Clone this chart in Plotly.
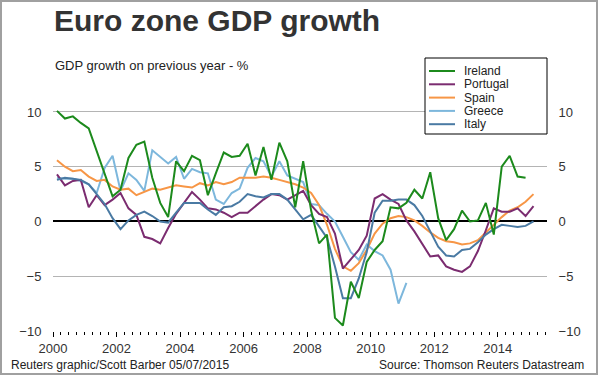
import plotly.graph_objects as go

# ---------------- data (quarterly, y/y % growth) ----------------
start_year = 2000
n_quarters = 61  # 2000Q1 .. 2015Q1
quarters = [f"{start_year + i // 4}Q{i % 4 + 1}" for i in range(n_quarters)]

ireland = [10.1, 9.4, 9.6, 9.0, 8.5, 6.5, 4.3, 2.3, 2.9, 5.8,
           7.0, 7.3, 4.0, 1.7, 0.4, 5.5, 4.6, 6.0, 5.6, 2.4,
           4.4, 6.3, 5.9, 6.0, 7.1, 4.2, 6.8, 3.8, 7.2, 5.5,
           1.3, 5.5, 1.0, -2.0, -1.2, -8.8, -9.5, -5.5, -7.0, -3.7,
           -2.6, -1.8, 1.3, 1.2, 1.7, 2.9, 2.1, 4.5, 0.3, -1.7,
           -0.7, 1.0, 0.0, 0.1, 1.7, -1.2, 5.0, 6.0, 4.1, 4.0]

portugal = [4.3, 3.3, 3.7, 3.8, 1.3, 2.4, 1.5, 2.0, 2.6, 1.2,
            0.6, -1.4, -1.6, -2.0, -0.6, 0.7,
            1.7, 2.7, 2.0, 1.2, 1.1, 0.8, 0.4, 0.8, 0.8, 1.4,
            2.0, 2.5, 2.4, 2.0, 2.4, 2.8,
            1.5, 0.7, 0.4, -1.1, -4.3, -3.5, -2.6, -1.3, 2.1, 2.5,
            2.0, 1.6, 0.1, -0.9, -2.1, -3.2,
            -3.1, -4.1, -4.4, -4.6, -4.1, -2.7, -0.8, 1.2, 0.9, 0.9,
            1.2, 0.5, 1.4]

spain = [5.6, 5.0, 4.6, 4.7, 4.1, 3.7, 3.8, 3.2, 2.9, 3.0,
         2.4, 2.7, 3.0, 2.9, 3.1, 3.3,
         3.2, 3.1, 3.5, 3.3, 3.6, 3.4, 3.6, 4.0, 4.0, 4.0,
         4.1, 4.0, 3.8, 3.6, 3.4, 3.1,
         2.6, 1.5, -0.3, -2.5, -4.1, -4.5, -3.8, -2.6, -1.1, -0.2,
         0.3, 0.5, 0.4, 0.1, -0.4, -1.0, -1.5, -1.8, -1.9, -2.1,
         -2.0, -1.7, -1.0, -0.3, 0.4, 1.0, 1.3, 1.8, 2.5]

greece = [4.0, 3.9, 3.9, 3.7, 3.4, 2.6, 4.9, 6.0, 2.8, 4.4,
          3.8, 2.8, 6.5, 5.9, 5.3, 5.9, 3.9, 4.8, 4.5, 4.4,
          2.0, 1.6, 2.6, 3.0, 4.9, 5.8, 5.5, 4.1, 5.5, 4.2,
          3.9, 3.6, 1.6, 1.5, 0.7, 0.0, -1.4, -2.8, -3.5, -2.1,
          -2.7, -3.1, -4.4, -7.5, -5.6]

italy = [3.8, 4.0, 3.9, 3.8, 3.4, 2.5, 1.6, 0.3, -0.7, 0.1,
         0.6, 0.9, 0.5, 0.0, -0.1,
         0.8, 1.7, 1.7, 1.7, 1.1, 0.6, 1.3, 1.4, 1.8, 2.5,
         2.3, 2.2, 2.5, 2.5, 2.0, 1.1, 0.2,
         0.6, -0.5, -1.5, -4.1, -7.0, -7.0, -5.2, -2.8, 0.8, 1.9,
         1.9, 2.0, 2.0, 1.5, 0.5, -0.9,
         -2.3, -3.1, -3.2, -2.6, -2.5, -1.9, -1.2, -0.7, -0.3, -0.4,
         -0.5, -0.4, 0.0]

series_names = ["Ireland", "Portugal", "Spain", "Greece", "Italy"]
series_values = [ireland, portugal, spain, greece, italy]
series_colors = ["#1c8a1c", "#7b2c70", "#f79646", "#7db7dc", "#4a7aa3"]
z_orders = [5, 3, 2, 1, 4]

y_ticks = [-10, -5, 0, 5, 10]
x_ticks = [2000, 2002, 2004, 2006, 2008, 2010, 2012, 2014]


def quarter_pos(q):
    year, qq = q.split("Q")
    return int(year) + (int(qq) - 1) / 4 + 0.125


FONT = "Liberation Sans, Arial, sans-serif"
W, H = 600, 376

fig = go.Figure()
for name, vals, col, z in zip(series_names, series_values, series_colors, z_orders):
    fig.add_trace(go.Scatter(
        x=[quarter_pos(q) for q in quarters[:len(vals)]],
        y=vals,
        mode="lines",
        name=name,
        line=dict(color=col, width=2),
        zorder=z,
        showlegend=False,
    ))

# empty trace so the right-hand axis is drawn
fig.add_trace(go.Scatter(x=[], y=[], yaxis="y2", showlegend=False, hoverinfo="skip"))

plot_left, plot_right = 53, 547
plot_top, plot_bottom = 108.7, 331


def px(x):
    return x / W


def py(y):
    return 1 - y / H


annotations = [
    dict(text="<b>Euro zone GDP growth</b>", x=px(52), y=py(21),
         xanchor="left", yanchor="middle",
         font=dict(family=FONT, size=30, color="#333333")),
    dict(text="GDP growth on previous year - %", x=px(53), y=py(66),
         xanchor="left", yanchor="middle",
         font=dict(family=FONT, size=13, color="#222222")),
    dict(text="Reuters graphic/Scott Barber 05/07/2015", x=px(9), y=py(365),
         xanchor="left", yanchor="middle",
         font=dict(family=FONT, size=12, color="#222222")),
    dict(text="Source: Thomson Reuters Datastream", x=px(586), y=py(365),
         xanchor="right", yanchor="middle",
         font=dict(family=FONT, size=12, color="#222222")),
]

shapes = [
    dict(type="rect", x0=px(1), x1=px(597), y0=py(374), y1=py(1),
         line=dict(color="#a0a0a0", width=2), fillcolor="rgba(0,0,0,0)",
         layer="above"),
    # legend box
    dict(type="rect", x0=px(425), x1=px(547), y0=py(134), y1=py(58),
         line=dict(color="black", width=1), fillcolor="white", layer="above"),
]

# legend entries (line swatch + label)
legend_top = 71
legend_step = 13.3
for k, (name, col) in enumerate(zip(series_names, series_colors)):
    yc = legend_top + k * legend_step
    shapes.append(dict(type="line", x0=px(429), x1=px(455), y0=py(yc), y1=py(yc),
                       line=dict(color=col, width=2), layer="above"))
    annotations.append(dict(text=name, x=px(462), y=py(yc), xanchor="left",
                            yanchor="middle",
                            font=dict(family=FONT, size=12, color="#222222")))

for a in annotations:
    a.update(xref="paper", yref="paper", showarrow=False)
for s in shapes:
    s.update(xref="paper", yref="paper")

fig.update_layout(
    width=W, height=H,
    margin=dict(l=0, r=0, t=0, b=0),
    paper_bgcolor="white", plot_bgcolor="white",
    font=dict(family=FONT, color="#333333", size=13),
    showlegend=False,
    xaxis=dict(
        domain=[plot_left / W, plot_right / W],
        range=[2000, 2015.55],
        tickmode="array", tickvals=x_ticks,
        ticks="outside", ticklen=5, tickcolor="black", tickwidth=1,
        minor=dict(dtick=0.25, tick0=2000, ticks="outside", ticklen=3,
                   tickcolor="black", tickwidth=1, showgrid=False),
        showline=True, linecolor="black", linewidth=1,
        showgrid=False, zeroline=False,
        tickfont=dict(size=13, color="#333333"),
        automargin=False, fixedrange=True,
    ),
    yaxis=dict(
        domain=[(H - plot_bottom) / H, (H - plot_top) / H],
        range=[-10, 10.3],
        tickmode="array", tickvals=y_ticks,
        showgrid=True, gridcolor="#b4b4b4", gridwidth=1,
        zeroline=True, zerolinecolor="black", zerolinewidth=1.5,
        showline=False, ticks="outside", ticklen=8,
        tickcolor="rgba(0,0,0,0)",
        tickfont=dict(size=13, color="#333333"),
        automargin=False, fixedrange=True,
    ),
    yaxis2=dict(
        overlaying="y", side="right",
        range=[-10, 10.3],
        tickmode="array", tickvals=y_ticks,
        showgrid=False, zeroline=False, showline=False,
        ticks="outside", ticklen=8, tickcolor="rgba(0,0,0,0)",
        tickfont=dict(size=13, color="#333333"),
        automargin=False, fixedrange=True,
    ),
    annotations=annotations,
    shapes=shapes,
)

fig.write_html(
    "out.html",
    config={"displayModeBar": False},
    post_script="document.body.style.margin='0px';document.body.style.overflow='hidden';",
)
